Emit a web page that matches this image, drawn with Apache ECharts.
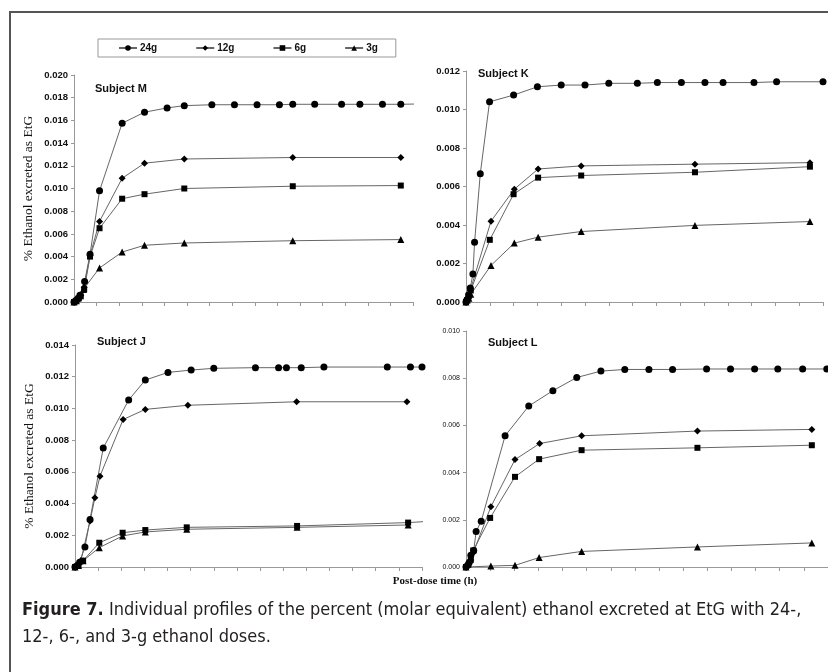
<!DOCTYPE html>
<html>
<head>
<meta charset="utf-8">
<script src="https://cdn.jsdelivr.net/npm/echarts@6/dist/echarts.min.js"></script>
<style>
html,body{margin:0;padding:0;background:#fff;}
#c{width:828px;height:672px;}
</style>
</head>
<body>
<div id="c"></div>
<script>
// Dose names (legend)
const doses = ['24g', '12g', '6g', '3g'];
// x values are in axis-tick units (15 unlabeled ticks)
// Subject M
const m24 = [[0,0],[0.05,0.00005],[0.1,0.00015],[0.18,0.0003],[0.26,0.0006],[0.47,0.0018],[0.71,0.0042],[1.13,0.0098],[2.13,0.01575],[3.12,0.01672],[4.12,0.0171],[4.88,0.0173],[6.1,0.01738],[7.1,0.01738],[8.1,0.01738],[9.09,0.01738],[9.68,0.01742],[10.65,0.01742],[11.84,0.01742],[12.65,0.01742],[13.65,0.01742],[14.46,0.01742],[15.3,0.01745]];
const m12 = [[0,0],[0.1,0.0001],[0.2,0.0003],[0.3,0.0006],[0.45,0.0013],[0.71,0.0041],[1.13,0.0071],[2.13,0.0109],[3.12,0.01223],[4.88,0.0126],[9.68,0.01273],[14.46,0.01273]];
const m6 = [[0,0],[0.1,0.0001],[0.2,0.0003],[0.3,0.0005],[0.45,0.0011],[0.71,0.0040],[1.13,0.0065],[2.13,0.0091],[3.12,0.0095],[4.88,0.0100],[9.68,0.0102],[14.46,0.01026]];
const m3 = [[0,0],[0.1,0.0001],[0.2,0.0004],[0.41,0.0011],[1.13,0.0030],[2.13,0.0044],[3.12,0.0050],[4.88,0.0052],[9.68,0.0054],[14.46,0.0055]];
// Subject K
const k24 = [[0,0],[0.04,0.00012],[0.11,0.00038],[0.18,0.00073],[0.29,0.00145],[0.36,0.0031],[0.6,0.00666],[0.99,0.0104],[2.0,0.01075],[3.0,0.01118],[4.0,0.01127],[5.0,0.01127],[6.0,0.01136],[7.2,0.01136],[8.04,0.0114],[9.05,0.0114],[10.04,0.0114],[10.8,0.0114],[12.1,0.0114],[13.05,0.01144],[15.0,0.01144]];
const k12 = [[0,0],[0.04,0.0001],[0.11,0.0003],[0.18,0.0006],[1.05,0.0042],[2.03,0.00586],[3.03,0.00691],[4.84,0.00707],[9.62,0.00716],[14.45,0.00724]];
const k6 = [[0,0],[0.05,0.0001],[0.12,0.0003],[0.2,0.0006],[1.0,0.00323],[2.0,0.0056],[3.03,0.00646],[4.84,0.00657],[9.62,0.00674],[14.45,0.00703]];
const k3 = [[0,0],[0.05,0.0001],[0.12,0.0002],[0.2,0.0004],[1.05,0.0019],[2.03,0.00306],[3.03,0.00337],[4.84,0.00366],[9.62,0.00398],[14.45,0.00418]];
// Subject J
const j24 = [[0,0],[0.1,0.0001],[0.2,0.0003],[0.43,0.00126],[0.65,0.0030],[1.22,0.0075],[2.32,0.01053],[3.04,0.01179],[4.02,0.01227],[5.02,0.01242],[6.0,0.01253],[7.8,0.01257],[8.8,0.01257],[9.14,0.01257],[9.78,0.01257],[10.76,0.01261],[13.5,0.01261],[14.5,0.01261],[15.0,0.01261]];
const j12 = [[0,0],[0.1,0.0001],[0.25,0.0004],[0.65,0.0029],[0.86,0.00436],[1.08,0.00573],[2.08,0.0093],[3.04,0.00994],[4.88,0.0102],[9.58,0.01042],[14.35,0.01042]];
const j6 = [[0,0],[0.15,0.0001],[0.35,0.0004],[1.05,0.00153],[2.06,0.00216],[3.04,0.00233],[4.83,0.0025],[9.6,0.00259],[14.4,0.0028],[15.3,0.00288]];
const j3 = [[0,0],[0.15,0.0001],[0.35,0.0004],[1.05,0.00122],[2.06,0.00196],[3.04,0.00221],[4.83,0.00238],[9.6,0.0025],[14.4,0.00265]];
// Subject L
const l24 = [[0,0],[0.07,0.00007],[0.14,0.0002],[0.2,0.0005],[0.32,0.0007],[0.42,0.0015],[0.63,0.00194],[1.62,0.00556],[2.6,0.00682],[3.6,0.00747],[4.59,0.00803],[5.59,0.0083],[6.58,0.00837],[7.58,0.00837],[8.56,0.00837],[9.97,0.00839],[10.96,0.00839],[11.96,0.00839],[12.92,0.00839],[13.95,0.00839],[14.95,0.00839]];
const l12 = [[0,0],[0.1,0.0001],[0.2,0.0003],[0.3,0.0006],[1.03,0.00255],[2.03,0.00455],[3.05,0.00523],[4.79,0.00556],[9.59,0.00576],[14.33,0.00583]];
const l6 = [[0,0],[0.1,0.0001],[0.2,0.0003],[0.3,0.0007],[1.0,0.00208],[2.03,0.00382],[3.03,0.00457],[4.79,0.00495],[9.59,0.00505],[14.33,0.00516]];
const l3 = [[0,0],[1.03,0.00004],[2.03,0.00007],[3.03,0.0004],[4.79,0.00066],[9.59,0.00085],[14.33,0.00102]];
// Axis settings
const yMax = [0.020, 0.012, 0.014, 0.010];
const subjects = ['Subject M', 'Subject K', 'Subject J', 'Subject L'];
const panelData = [[m24, m12, m6, m3], [k24, k12, k6, k3], [j24, j12, j6, j3], [l24, l12, l6, l3]];

const symbols = ['circle', 'path://M0,-1L1,0L0,1L-1,0Z', 'rect', 'triangle'];
const symbolSizes = [7, 7, 6, 7];

const grids = [
  {left: 74, top: 75, width: 339, height: 227},
  {left: 466, top: 71, width: 357, height: 231},
  {left: 75, top: 345, width: 347, height: 222},
  {left: 466, top: 331, width: 363, height: 236}
];

const xAxes = grids.map((g, i) => ({
  type: 'value', gridIndex: i, min: 0, max: 15, interval: 1,
  axisLine: {lineStyle: {color: '#999', width: 1}},
  axisTick: {show: true, length: 4, lineStyle: {color: '#999'}},
  axisLabel: {show: false},
  splitLine: {show: false}
}));

const yAxes = grids.map((g, i) => ({
  type: 'value', gridIndex: i, min: 0, max: yMax[i], interval: 0.002,
  axisLine: {show: true, lineStyle: {color: '#999', width: 1}},
  axisTick: {show: true, length: 3, lineStyle: {color: '#999'}},
  axisLabel: {
    formatter: v => v.toFixed(3),
    color: '#111',
    fontFamily: 'Liberation Sans, Arial, sans-serif',
    fontWeight: i === 3 ? 'normal' : 'bold',
    fontSize: i === 3 ? 7 : 9.5,
    margin: 6
  },
  splitLine: {show: false},
  name: (i === 0 || i === 2) ? '% Ethanol excreted as EtG' : '',
  nameLocation: 'middle',
  nameGap: 39,
  nameTextStyle: {fontFamily: 'Liberation Serif, Times New Roman, serif', fontSize: 13.5, color: '#111'}
}));

const series = [];
panelData.forEach((pd, p) => {
  pd.forEach((d, s) => {
    series.push({
      name: doses[s], type: 'line', xAxisIndex: p, yAxisIndex: p,
      data: d, symbol: symbols[s], symbolSize: symbolSizes[s], showSymbol: true,
      clip: true,
      lineStyle: {color: '#666', width: 1},
      itemStyle: {color: '#000'},
      emphasis: {disabled: true}
    });
  });
});

const subjectPos = [[95, 83], [478, 68], [97, 336], [488, 337]];
const captionFont = 'DejaVu Sans Condensed, Liberation Sans Narrow, sans-serif';
const graphics = [
  {type: 'rect', shape: {x: 10, y: 12, width: 840, height: 700}, style: {fill: 'none', stroke: '#555', lineWidth: 2}},
  {type: 'text', x: 435, y: 581, style: {text: 'Post-dose time (h)', fill: '#111', font: 'bold 11px "Liberation Serif", serif', textAlign: 'center', textVerticalAlign: 'middle'}},
  {type: 'text', x: 22, y: 597, style: {
    rich: {
      b: {fontFamily: captionFont, fontWeight: 'bold', fontSize: 18, fill: '#231f20', lineHeight: 27},
      n: {fontFamily: captionFont, fontSize: 18, fill: '#231f20', lineHeight: 27}
    },
    text: '{b|Figure 7.}{n| Individual profiles of the percent (molar equivalent) ethanol excreted at EtG with 24-,}\n{n|12-, 6-, and 3-g ethanol doses.}'
  }}
];
subjects.forEach((s, i) => {
  graphics.push({type: 'text', x: subjectPos[i][0], y: subjectPos[i][1], style: {text: s, fill: '#111', font: 'bold 11px "Liberation Sans", Arial, sans-serif'}});
});

const chart = echarts.init(document.getElementById('c'), null, {renderer: 'canvas'});
chart.setOption({
  animation: false,
  backgroundColor: '#fff',
  grid: grids,
  xAxis: xAxes,
  yAxis: yAxes,
  legend: {
    data: doses, left: 98, top: 39, orient: 'horizontal',
    itemWidth: 18, itemHeight: 7, itemGap: 38,
    padding: [4, 18, 4, 20],
    borderColor: '#999', borderWidth: 1,
    textStyle: {fontFamily: 'Liberation Sans, Arial, sans-serif', fontWeight: 'bold', fontSize: 10, color: '#111', padding: [0, 0, 0, -2]},
    selectedMode: false
  },
  series: series,
  graphic: graphics
});
</script>
</body>
</html>
